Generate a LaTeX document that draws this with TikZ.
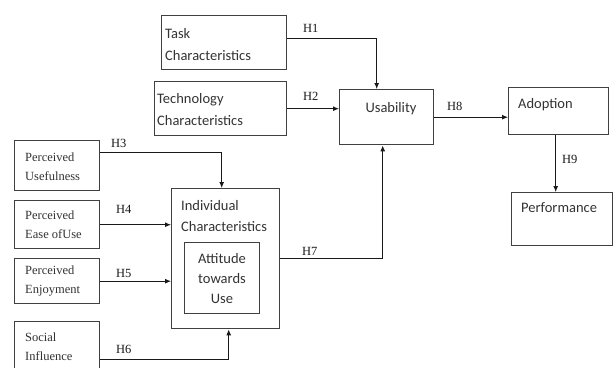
\documentclass[tikz,border=0pt]{standalone}
\usepackage{fontspec}
\setmainfont{Liberation Serif}
\newfontfamily\calfont{Carlito}
\usetikzlibrary{arrows.meta,calc}
\tikzset{
  box/.style={draw=black!75, line width=1.4pt, rectangle, inner sep=0pt, anchor=north west},
  ct/.style={font=\calfont\fontsize{14.5pt}{21.5pt}\selectfont, inner sep=0pt, text=black!80},
  st/.style={font=\fontsize{12.5pt}{19pt}\selectfont, inner sep=0pt, text=black!80},
  hl/.style={font=\fontsize{12.5pt}{15pt}\selectfont, inner sep=0pt, anchor=base west, text=black!90},
  arr/.style={-{Latex[length=6pt,width=5pt]}, line width=0.9pt, draw=black!90},
  ln/.style={line width=0.9pt, draw=black!90}
}
\begin{document}
\begin{tikzpicture}[x=1pt,y=-1pt]
\fill[white] (0,0) rectangle (613,367);
\clip (0,0) rectangle (613,367);
% boxes
\node[box, minimum width=125pt, minimum height=54pt] (task) at (161,15) {};
\node[box, minimum width=132pt, minimum height=54pt] (tech) at (154,81) {};
\node[box, minimum width=94pt, minimum height=55pt] (usa) at (339,89) {};
\node[box, minimum width=100pt, minimum height=47pt] (ado) at (508,87) {};
\node[box, minimum width=101pt, minimum height=53pt] (perf) at (511,192) {};
\node[box, minimum width=85pt, minimum height=50pt] (pu) at (14,140) {};
\node[box, minimum width=85pt, minimum height=48pt] (pe) at (14,200) {};
\node[box, minimum width=85pt, minimum height=45pt] (pen) at (14,258) {};
\node[box, minimum width=85pt, minimum height=52pt] (si) at (14,321) {};
\node[box, minimum width=108pt, minimum height=140pt] (ind) at (171,188) {};
\node[box, minimum width=75pt, minimum height=71pt] (att) at (184,242) {};
% texts
\node[ct, anchor=west, align=left] (taskt) at ([xshift=4pt,yshift=-2pt]task.west) {Task\\Characteristics};
\node[ct, anchor=west, align=left] (techt) at ([xshift=3pt,yshift=-1pt]tech.west) {Technology\\Characteristics};
\node[ct, anchor=base] (usat) at (391,112) {Usability};
\node[ct, anchor=base west] (adot) at (518,108) {Adoption};
\node[ct, anchor=base west] (perft) at (521,212) {Performance};
\node[ct, anchor=north west, align=left] (indt) at (181,200) {Individual\\Characteristics};
\node[ct, anchor=north, align=center, font=\calfont\fontsize{14.5pt}{20pt}\selectfont] (attt) at (222,253) {Attitude\\towards\\Use};
\node[st, anchor=west, align=left] (put) at ([xshift=11pt,yshift=-1pt]pu.west) {Perceived\\Usefulness};
\node[st, anchor=west, align=left] (pet) at ([xshift=11pt]pe.west) {Perceived\\Ease ofUse};
\node[st, anchor=west, align=left] (pent) at ([xshift=11pt]pen.west) {Perceived\\Enjoyment};
\node[st, anchor=north west, align=left] (sit) at (25,333) {Social\\Influence};
% connectors
\draw[arr] ([yshift=4pt]task.east) -| ([xshift=-10pt]usa.north);
\draw[arr] (tech.east) -- (tech.east -| usa.west);
\draw[arr] ([yshift=13pt]pu.east) -| ([xshift=-4pt]ind.north);
\draw[arr] (pe.east) -- (pe.east -| ind.west);
\draw[arr] (pen.east) -- (pen.east -| ind.west);
\draw[arr] ([yshift=-11.5pt]si.east) -| ([xshift=3pt]ind.south);
\draw[arr] (ind.east) -| ([xshift=-4pt]usa.south);
\draw[arr] (usa.east) -- (usa.east -| ado.west);
\draw[arr] ([xshift=-3pt]ado.south) -- ([xshift=-3pt]ado.south |- perf.north);
% labels
\node[hl] (h1) at (303,32) {H1};
\node[hl] (h2) at (303,100) {H2};
\node[hl] (h3) at (111,147) {H3};
\node[hl] (h4) at (116,213) {H4};
\node[hl] (h5) at (116,277) {H5};
\node[hl] (h6) at (116,353) {H6};
\node[hl] (h7) at (302,255) {H7};
\node[hl] (h8) at (447,110) {H8};
\node[hl] (h9) at (562,163) {H9};
\end{tikzpicture}
\end{document}
